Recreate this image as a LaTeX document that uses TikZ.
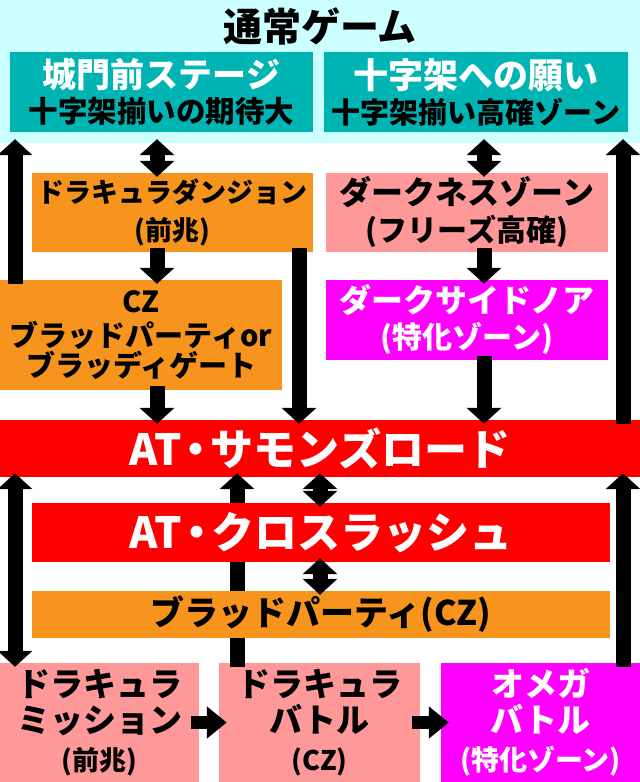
\documentclass[tikz,border=0pt]{standalone}
\usepackage{fontspec}
\IfFontExistsTF{Noto Sans CJK JP Black}
  {\setmainfont{Noto Sans CJK JP}[BoldFont={Noto Sans CJK JP Black}]}
  {\setmainfont{Noto Sans CJK JP}}
\usetikzlibrary{arrows.meta}
\definecolor{normalcyan}{RGB}{204,255,255}
\definecolor{stageteal}{RGB}{0,180,180}
\definecolor{czorange}{RGB}{247,148,30}
\definecolor{zonepink}{RGB}{255,153,153}
\definecolor{tokkamagenta}{RGB}{255,0,255}
\definecolor{atred}{RGB}{255,0,0}
\newcommand{\fsz}[1]{\fontsize{#1}{#1}\selectfont}
\newcommand{\atdot}{\kern-7pt・\kern-7pt}

\begin{document}
\begin{tikzpicture}[x=1pt,y=-1pt,
    zone/.style={inner sep=0pt,align=center},
    stagebox/.style={zone,fill=stageteal},
    czbox/.style={zone,fill=czorange},
    pinkbox/.style={zone,fill=zonepink},
    tokkabox/.style={zone,fill=tokkamagenta,text=white},
    atbox/.style={zone,fill=atred,text=white,font=\bfseries\fsz{43}},
    arr/.style={line width=15pt,-{Triangle[length=16pt,width=34pt]},shorten <=-4pt,shorten >=-4pt},
    darr/.style={arr,{Triangle[length=16pt,width=34pt]}-{Triangle[length=16pt,width=34pt]}},
    harr/.style={line width=13pt,-{Triangle[length=20pt,width=31pt]},shorten <=-8pt,shorten >=-8pt}
]
\useasboundingbox (0,0) rectangle (640,782);
\node[fill=normalcyan,minimum width=640pt,minimum height=143pt,inner sep=0pt] (band) at (320,71.5) {};
\node[zone,font=\bfseries\fsz{39}] (title) at (320,26) {通常ゲーム};
\node[stagebox,minimum width=303pt,minimum height=80pt,font=\bfseries\fontsize{30}{35}\selectfont] (stageL) at (161.5,92) {\color{white}\fsz{34}城門前ステージ\\\fsz{29.5}十字架揃いの期待大};
\node[stagebox,minimum width=304pt,minimum height=80pt,font=\bfseries\fontsize{30}{35}\selectfont] (stageR) at (476,92) {\color{white}\fsz{35}十字架への願い\\\fsz{29}十字架揃い高確ゾーン};
\node[czbox,minimum width=281pt,minimum height=79pt,font=\bfseries\fontsize{27}{38}\selectfont] (dung) at (172.5,212.5) {ドラキュラダンジョン\\(前兆)};
\node[pinkbox,minimum width=282pt,minimum height=79pt,font=\bfseries\fontsize{30}{37}\selectfont] (dark) at (467,212.5) {\fsz{32}ダークネスゾーン\\(フリーズ高確)};
\node[czbox,minimum width=282pt,minimum height=110pt,font=\bfseries\fontsize{29}{30}\selectfont] (cz) at (141,335) {CZ\\[4pt]ブラッドパーティor\\ブラッディゲート};
\node[tokkabox,minimum width=282pt,minimum height=80pt,font=\bfseries\fontsize{30}{36}\selectfont] (noa) at (467,320) {\fsz{32}ダークサイドノア\\(特化ゾーン)};
\node[atbox,minimum width=640pt,minimum height=57pt] (summon) at (320,448.5) {AT\atdot サモンズロード};
\node[pinkbox,minimum width=199pt,minimum height=119pt,font=\bfseries\fontsize{33}{36}\selectfont] (mission) at (99.5,722.5) {ドラキュラ\\ミッション\\[2pt]\fsz{27}(前兆)};
\node[pinkbox,minimum width=201pt,minimum height=119pt,font=\bfseries\fontsize{33}{36}\selectfont] (battle) at (319.5,722.5) {ドラキュラ\\バトル\\[2pt]\fsz{27}(CZ)};
\node[tokkabox,minimum width=199pt,minimum height=119pt,font=\bfseries\fontsize{33}{36}\selectfont] (omega) at (540.5,722.5) {オメガ\\バトル\\[2pt]\fsz{28}(特化ゾーン)};

\coordinate (lcol) at (15,0);
\coordinate (dcol) at (157,0);
\coordinate (bcol) at (237,0);
\coordinate (jcol) at (299,0);
\coordinate (mcol) at (320,0);
\coordinate (zcol) at (484,0);
\coordinate (rcol) at (623,0);

\draw[arr] (bcol |- battle.north) -- (bcol |- summon.south);

\node[atbox,minimum width=578pt,minimum height=59pt] (cross) at (321,532.5) {AT\atdot クロスラッシュ};
\node[czbox,minimum width=578pt,minimum height=47pt,font=\bfseries\fsz{34}] (blood) at (321,614.5) {ブラッドパーティ(CZ)};

\draw[arr] (lcol |- cz.north) -- (lcol |- band.south);
\draw[darr] (dcol |- band.south) -- (dcol |- dung.north);
\draw[darr] (zcol |- band.south) -- (zcol |- dark.north);
\draw[arr] (rcol |- summon.north) -- (rcol |- band.south);
\draw[arr] (dcol |- dung.south) -- (dcol |- cz.north);
\draw[arr] (jcol |- dung.south) -- (jcol |- summon.north);
\draw[arr] (dcol |- cz.south) -- (dcol |- summon.north);
\draw[arr] (zcol |- dark.south) -- (zcol |- noa.north);
\draw[arr] (zcol |- noa.south) -- (zcol |- summon.north);
\draw[darr] (mcol |- summon.south) -- (mcol |- cross.north);
\draw[darr] (mcol |- cross.south) -- (mcol |- blood.north);
\draw[darr] (lcol |- summon.south) -- (lcol |- mission.north);
\draw[arr] (rcol |- omega.north) -- (rcol |- summon.south);
\draw[harr] (mission) -- (battle);
\draw[harr] (battle) -- (omega);
\end{tikzpicture}
\end{document}
